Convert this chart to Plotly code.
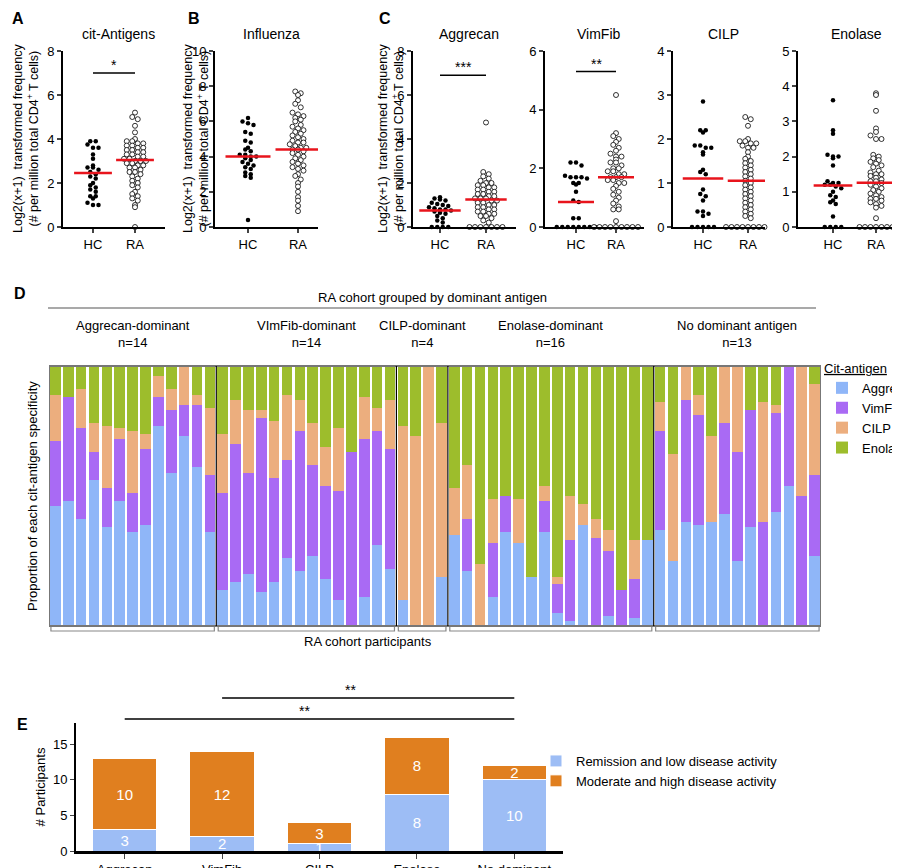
import numpy as np
import plotly.graph_objects as go

W, H = 900, 868
FONT = "Liberation Sans"

# ---- panels A-C: log2(x+1) frequencies ----
cit_hc = [3.9, 3.9, 3.75, 3.6, 3.6, 3.3, 3.1, 2.8, 2.7, 2.7, 2.6, 2.5, 2.4, 2.3, 2.2, 2.0, 1.9, 1.8,
          1.7, 1.6, 1.4, 1.4, 1.3, 1.1, 1.0, 1.0]
cit_ra = [5.2, 5.0, 4.9, 4.6, 4.3, 4.0, 3.9, 3.9, 3.8, 3.8, 3.7, 3.7, 3.6, 3.6, 3.5, 3.5, 3.4, 3.4,
          3.3, 3.3, 3.2, 3.2, 3.1, 3.1, 3.0, 3.0, 3.0, 2.9, 2.9, 2.8, 2.8, 2.7, 2.7, 2.6, 2.5, 2.5,
          2.4, 2.3, 2.2, 2.1, 2.0, 1.9, 1.8, 1.6, 1.5, 1.4, 1.3, 1.2, 1.0, 0.9, 0.0]
flu_hc = [6.2, 6.0, 5.9, 5.8, 5.4, 5.3, 4.9, 4.8, 4.5, 4.4, 4.3, 4.1, 4.1, 4.0, 4.0, 3.9, 3.8, 3.7,
          3.6, 3.5, 3.4, 3.3, 3.1, 3.0, 2.9, 2.8, 0.4]
flu_ra = [7.7, 7.6, 7.5, 7.2, 7.0, 6.8, 6.5, 6.4, 6.3, 6.2, 6.1, 6.0, 5.8, 5.7, 5.6, 5.5, 5.4, 5.3,
          5.2, 5.1, 5.0, 4.9, 4.8, 4.8, 4.7, 4.6, 4.5, 4.5, 4.4, 4.4, 4.3, 4.2, 4.1, 4.0, 3.9, 3.8,
          3.7, 3.6, 3.5, 3.4, 3.3, 3.2, 3.0, 2.9, 2.7, 2.5, 2.3, 2.0, 1.7, 1.5, 1.2, 0.9]
agg_hc = [1.35, 1.3, 1.25, 1.2, 1.1, 1.05, 1.0, 0.95, 0.9, 0.85, 0.8, 0.8, 0.75, 0.7, 0.65, 0.6,
          0.5, 0.4, 0.3, 0.2, 0, 0, 0, 0]
agg_ra = [4.75, 2.5, 2.4, 2.3, 2.2, 2.1, 2.0, 2.0, 1.9, 1.9, 1.8, 1.8, 1.7, 1.7, 1.6, 1.6, 1.5, 1.5,
          1.4, 1.4, 1.3, 1.3, 1.3, 1.2, 1.2, 1.1, 1.1, 1.0, 1.0, 0.9, 0.9, 0.8, 0.8, 0.7, 0.7, 0.6,
          0.6, 0.5, 0.5, 0.4, 0.3, 0.2, 0, 0, 0, 0, 0, 0, 0]
vim_hc = [2.2, 2.2, 2.1, 1.75, 1.7, 1.7, 1.7, 1.65, 1.5, 1.5, 1.45, 1.2, 0.9, 0.85, 0.3, 0.3,
          0, 0, 0, 0, 0, 0, 0, 0]
vim_ra = [4.5, 3.2, 3.1, 3.0, 2.9, 2.8, 2.7, 2.6, 2.5, 2.4, 2.4, 2.3, 2.2, 2.2, 2.1, 2.0, 2.0, 1.9,
          1.9, 1.8, 1.8, 1.7, 1.7, 1.7, 1.6, 1.6, 1.5, 1.5, 1.4, 1.3, 1.2, 1.1, 1.0, 0.9, 0.8, 0.7,
          0.6, 0.6, 0.2, 0, 0, 0, 0, 0, 0, 0, 0, 0]
cilp_hc = [2.85, 2.2, 2.2, 2.15, 1.85, 1.85, 1.8, 1.8, 1.7, 1.65, 1.3, 1.25, 1.2, 0.85, 0.75, 0.7,
           0.6, 0.35, 0.35, 0.3, 0.25, 0, 0, 0, 0, 0]
cilp_ra = [2.5, 2.45, 2.3, 2.0, 1.95, 1.95, 1.9, 1.9, 1.85, 1.8, 1.8, 1.7, 1.6, 1.55, 1.5, 1.45,
           1.4, 1.35, 1.3, 1.25, 1.2, 1.15, 1.1, 1.05, 1.0, 0.95, 0.9, 0.85, 0.8, 0.75, 0.7, 0.65,
           0.6, 0.55, 0.5, 0.45, 0.4, 0.35, 0.3, 0.25, 0.2, 0, 0, 0, 0, 0, 0, 0, 0, 0]
eno_hc = [3.6, 2.75, 2.65, 2.05, 2.0, 2.0, 1.95, 1.75, 1.3, 1.25, 1.25, 1.2, 1.2, 1.15, 1.1, 1.0,
          0.9, 0.85, 0.75, 0.7, 0.65, 0.3, 0, 0, 0, 0]
eno_ra = [3.8, 3.75, 3.3, 2.8, 2.7, 2.6, 2.5, 2.5, 2.05, 2.0, 1.95, 1.9, 1.85, 1.8, 1.75, 1.7, 1.6,
          1.55, 1.5, 1.5, 1.45, 1.4, 1.35, 1.3, 1.3, 1.25, 1.2, 1.15, 1.1, 1.05, 1.0, 0.95, 0.9,
          0.85, 0.8, 0.8, 0.75, 0.7, 0.65, 0.6, 0.55, 0.25, 0, 0, 0, 0, 0, 0, 0]

scatter_titles = ["cit-Antigens", "Influenza", "Aggrecan", "VimFib", "CILP", "Enolase"]
scatter_hc = [cit_hc, flu_hc, agg_hc, vim_hc, cilp_hc, eno_hc]
scatter_ra = [cit_ra, flu_ra, agg_ra, vim_ra, cilp_ra, eno_ra]
medians_hc = [2.45, 4.0, 0.75, 0.85, 1.1, 1.18]
medians_ra = [3.05, 4.4, 1.25, 1.7, 1.05, 1.26]
y_max = [8, 10, 8, 6, 4, 5]
y_dtick = [2, 2, 2, 2, 1, 1]
sig_text = ["*", None, "***", "**", None, None]
sig_y = [7.0, None, 6.9, 5.3, None, None]

# ---- panel D: cumulative proportions (top of Aggrecan, VimFib, CILP; Enolase fills to 1) ----
groups = ["Aggrecan-dominant<br>n=14", "VImFib-dominant<br>n=14", "CILP-dominant<br>n=4",
          "Enolase-dominant<br>n=16", "No dominant antigen<br>n=13"]
group_sizes = [13, 14, 4, 16, 13]
agg_top = [0.46, 0.48, 0.41, 0.56, 0.38, 0.48, 0.36, 0.39, 0.77, 0.59, 0.73, 0.61, 0.36,
           0.14, 0.17, 0.20, 0.13, 0.17, 0.26, 0.21, 0.27, 0.18, 0.10, 0.0, 0.11, 0.31, 0.22,
           0.10, 0.0, 0.0, 0.19,
           0.35, 0.21, 0.0, 0.11, 0.36, 0.32, 0.19, 0.36, 0.05, 0.02, 0.39, 0.0, 0.04, 0.0, 0.03, 0.33,
           0.37, 0.25, 0.40, 0.39, 0.40, 0.43, 0.25, 0.38, 0.0, 0.44, 0.54, 0.0, 0.27]
vim_top = [0.71, 0.88, 0.76, 0.67, 0.53, 0.72, 0.51, 0.68, 0.88, 0.83, 0.85, 0.85, 0.58,
           0.51, 0.70, 0.59, 0.80, 0.57, 0.64, 0.75, 0.62, 0.54, 0.52, 0.67, 0.72, 0.75, 0.68,
           0.10, 0.0, 0.0, 0.19,
           0.35, 0.41, 0.0, 0.32, 0.50, 0.32, 0.19, 0.48, 0.16, 0.33, 0.39, 0.34, 0.29, 0.14, 0.18, 0.33,
           0.75, 0.25, 0.87, 0.81, 0.40, 0.78, 0.67, 0.83, 0.40, 0.82, 1.0, 0.50, 0.58]
cilp_top = [0.89, 0.88, 0.91, 0.78, 0.77, 0.76, 0.75, 0.74, 0.96, 0.91, 1.0, 0.89, 0.84,
            0.74, 0.87, 0.83, 0.83, 0.79, 0.89, 0.87, 0.78, 0.69, 0.76, 0.67, 0.88, 0.84, 0.87,
            0.77, 0.73, 1.0, 0.78,
            0.53, 0.62, 0.24, 0.49, 0.50, 0.49, 0.19, 0.54, 0.19, 0.50, 0.47, 0.41, 0.37, 0.14, 0.33, 0.33,
            0.86, 0.66, 1.0, 0.89, 0.73, 1.0, 1.0, 0.83, 0.86, 0.85, 1.0, 1.0, 0.93]
antigens = ["Aggrecan", "VimFib", "CILP", "Enolase"]
antigen_colors = ["#8fb6f8", "#a96af4", "#ecae7e", "#9dbd2c"]

# ---- panel E ----
e_cats = ["Aggrecan", "VimFib", "CILP", "Enolase", "No dominant"]
e_low = [3, 2, 1, 8, 10]
e_high = [10, 12, 3, 8, 2]


def px(x):
    return x / W


def py(y):
    return 1 - y / H


def swarm(vals, ystep, xstep):
    # simple beeswarm: bin by value, spread each bin symmetrically
    vals = np.asarray(vals, dtype=float)
    bins = np.round(vals / ystep).astype(int)
    offs = np.zeros(len(vals))
    for b in np.unique(bins):
        idx = np.where(bins == b)[0]
        k = len(idx)
        offs[idx] = (np.arange(k) - (k - 1) / 2) * xstep
    return offs


def note(x, y, text, xref="paper", yref="paper", size=13, **kw):
    return dict(x=x, y=y, xref=xref, yref=yref, text=text, showarrow=False,
                xanchor="center", yanchor="middle", font=dict(size=size), **kw)


fig = go.Figure()
layout = dict(width=W, height=H, margin=dict(l=0, r=0, t=0, b=0, autoexpand=False),
              plot_bgcolor="white", paper_bgcolor="white",
              font=dict(family=FONT, size=13, color="black"),
              barmode="stack", showlegend=True)
shapes, annos = [], []

# pixel geometry for scatter panels: (x0, x1, HC px, RA px)
sc_geo = [(55, 157, 85, 127), (207, 310, 240, 290), (405, 508, 432, 478),
          (537, 636, 568, 608), (665, 757, 695, 740), (790, 897, 825, 868)]
y_top, y_bot = 43, 219
for i in range(6):
    n = i + 1
    xa, ya = f"x{n}" if n > 1 else "x", f"y{n}" if n > 1 else "y"
    x0, x1, hcp, rap = sc_geo[i]
    unit = rap - hcp
    xr = [-(hcp - x0) / unit, 1 + (x1 - rap) / unit]
    ypp = y_max[i] / (y_bot - y_top)
    xstep = 5.5 / unit
    for k, (vals, filled) in enumerate([(scatter_hc[i], True), (scatter_ra[i], False)]):
        xs = k + swarm(vals, 4.5 * ypp, xstep)
        fig.add_trace(go.Scatter(
            x=xs, y=vals, mode="markers", xaxis=xa, yaxis=ya, showlegend=False, cliponaxis=False,
            marker=dict(size=4.5 if filled else 5, color="black" if filled else "white",
                        line=dict(color="black", width=0 if filled else 0.8))))
    for k, med in enumerate([medians_hc[i], medians_ra[i]]):
        fig.add_trace(go.Scatter(x=[k - 0.45, k + 0.45], y=[med, med], mode="lines",
                                 xaxis=xa, yaxis=ya, showlegend=False,
                                 line=dict(color="#e8141c", width=2.5)))
    layout[f"xaxis{n if n > 1 else ''}"] = dict(
        domain=[px(x0), px(x1)], range=xr, anchor=ya, tickvals=[0, 1], ticktext=["HC", "RA"],
        showline=True, linecolor="black", linewidth=2, ticks="outside", ticklen=4,
        tickwidth=1.5, showgrid=False, zeroline=False, tickfont=dict(size=13), automargin=False)
    layout[f"yaxis{n if n > 1 else ''}"] = dict(
        domain=[py(y_bot), py(y_top)], range=[0, y_max[i]], dtick=y_dtick[i], anchor=xa,
        showline=True, linecolor="black", linewidth=2, ticks="outside", ticklen=4,
        tickwidth=1.5, showgrid=False, zeroline=False, tickfont=dict(size=13), automargin=False)
    annos.append(note((px(x0) + px(x1)) / 2 + 0.005, py(26), scatter_titles[i], size=14))
    if sig_text[i]:
        shapes.append(dict(type="line", xref=xa, yref=ya, x0=0, x1=1, y0=sig_y[i], y1=sig_y[i],
                           line=dict(color="black", width=1.5)))
        annos.append(note(0.5, sig_y[i], sig_text[i], xref=xa, yref=ya, size=14, yshift=8))

ytitle = "Log2(x+1)  transformed frequency<br>(# per million total CD4<sup>+</sup> T cells)"
for xp in [18, 188, 383]:
    annos.append(note(px(xp), py(131), ytitle, size=12.5, textangle=-90))
for letter, xp, yp in [("A", 10, 10), ("B", 186, 10), ("C", 377, 10), ("D", 12, 286), ("E", 14, 716)]:
    annos.append(note(px(xp), py(yp), f"<b>{letter}</b>", size=16))

# ---- panel D ----
nbar = sum(group_sizes)
xd = list(range(nbar))
segs = [agg_top,
        [v - a for v, a in zip(vim_top, agg_top)],
        [c - v for c, v in zip(cilp_top, vim_top)],
        [1 - c for c in cilp_top]]
for name, col, seg in zip(antigens, antigen_colors, segs):
    fig.add_trace(go.Bar(x=xd, y=seg, name=name, marker=dict(color=col, line_width=0),
                         xaxis="x7", yaxis="y7", legend="legend"))
d_top, d_bot = 358, 618
layout["xaxis7"] = dict(domain=[px(41), px(813)], range=[-0.5, nbar - 0.5], anchor="y7",
                        showticklabels=False, showgrid=False, zeroline=False, showline=False)
layout["yaxis7"] = dict(domain=[py(d_bot), py(d_top)], range=[0, 1], anchor="x7",
                        showticklabels=False, showgrid=False, zeroline=False, showline=False)
layout["bargap"] = 0.18
shapes.append(dict(type="rect", xref="x7", yref="paper", x0=-0.5, x1=nbar - 0.5, y0=py(d_bot),
                   y1=py(d_top), line=dict(color="#777", width=2)))
edges = np.cumsum([0] + group_sizes) - 0.5
for e in edges[1:-1]:
    shapes.append(dict(type="line", xref="x7", yref="paper", x0=e, x1=e, y0=py(d_bot),
                       y1=py(d_top), line=dict(color="black", width=1.2)))
for g, (a, b) in enumerate(zip(edges[:-1], edges[1:])):
    shapes.append(dict(type="path", xref="x7", yref="paper",
                       path=f"M {a + 0.15},{py(619)} L {a + 0.15},{py(623)} L {b - 0.15},{py(623)} L {b - 0.15},{py(619)}",
                       line=dict(color="#888", width=1.2)))
    annos.append(note((a + b) / 2, py(326), groups[g], xref="x7"))
shapes.append(dict(type="line", xref="paper", yref="paper", x0=px(40), x1=px(808), y0=py(300),
                   y1=py(300), line=dict(color="#555", width=1.2)))
annos.append(note(px(424), py(289), "RA cohort grouped by dominant antigen"))
annos.append(note(px(360), py(633), "RA cohort participants"))
annos.append(note(px(24), py(488), "Proportion of each cit-antigen specificity", textangle=-90))

# ---- panel E ----
e_colors = ["#9dbdf5", "#e07f1f"]
e_names = ["Remission and low disease activity", "Moderate and high disease activity"]
for name, col, vals in zip(e_names, e_colors, [e_low, e_high]):
    fig.add_trace(go.Bar(x=e_cats, y=vals, name=name, text=vals, textposition="inside",
                         insidetextanchor="middle", textangle=0, width=0.66,
                         constraintext="none",
                         textfont=dict(color="white", size=15, family=FONT),
                         marker=dict(color=col, line=dict(color="white", width=1)),
                         xaxis="x8", yaxis="y8", legend="legend2"))
layout["xaxis8"] = dict(domain=[px(68), px(555)], anchor="y8", showline=True, linecolor="black",
                        linewidth=2.5, ticks="outside", ticklen=5, showgrid=False,
                        tickfont=dict(size=13), automargin=False)
layout["yaxis8"] = dict(domain=[py(843), py(715)], range=[0, 18], anchor="x8", tickvals=[0, 5, 10, 15],
                        showline=True, linecolor="black", linewidth=2, ticks="outside", ticklen=4,
                        showgrid=False, zeroline=False, tickfont=dict(size=13), automargin=False,
                        title=dict(text="# Participants", font=dict(size=13), standoff=4))
for a, b, yline in [("VimFib", "No dominant", 690), ("Aggrecan", "No dominant", 711)]:
    shapes.append(dict(type="line", xref="x8", yref="paper", x0=a, x1=b, y0=py(yline),
                       y1=py(yline), line=dict(color="black", width=1.3)))
annos.append(note(px(342), py(682), "**", size=14))
annos.append(note(px(296), py(703), "**", size=14))

layout["legend"] = dict(x=px(814), y=py(348), xanchor="left", yanchor="top", traceorder="normal",
                        title=dict(text="<u>Cit-antigen</u>", font=dict(size=13)),
                        font=dict(size=13), tracegroupgap=2, itemwidth=30, bgcolor="rgba(0,0,0,0)")
layout["legend2"] = dict(x=px(528), y=py(738), xanchor="left", yanchor="top", traceorder="normal",
                         font=dict(size=13), tracegroupgap=8, bgcolor="rgba(0,0,0,0)")
layout["shapes"] = shapes
layout["annotations"] = annos
fig.update_layout(**layout)
fig.write_html("out.html")
